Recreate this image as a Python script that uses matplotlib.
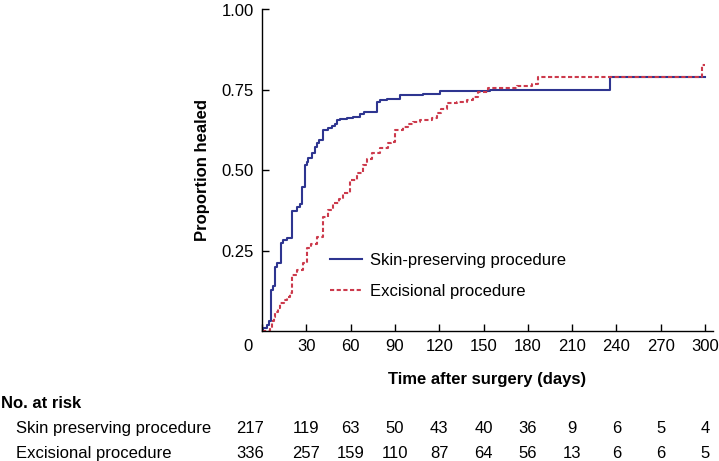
import matplotlib
matplotlib.use("Agg")
import matplotlib.pyplot as plt
from matplotlib.transforms import ScaledTranslation, blended_transform_factory

plt.rcParams['font.family'] = ['Liberation Sans', 'DejaVu Sans']

# ---------------- data ----------------
skin_t = [0, 1.0, 3.5, 5.0, 6.1, 7.7, 9.0, 10.4, 12.6, 14.4, 17.0, 20.1, 23.5, 25.7,
          26.9, 29.4, 30.2, 31.4, 33.6, 35.9, 37.5, 38.8, 41.1, 44.9, 47.2, 49.4, 51.0,
          52.8, 57.3, 61.9, 66.4, 69.1, 77.6, 79.9, 84.4, 93.4, 109.3, 120.5, 154.4,
          235.7, 300]
skin_p = [0, 0.010, 0.018, 0.030, 0.128, 0.140, 0.200, 0.210, 0.273, 0.283, 0.290, 0.374,
          0.385, 0.395, 0.449, 0.516, 0.527, 0.537, 0.553, 0.573, 0.584, 0.594, 0.625,
          0.630, 0.637, 0.645, 0.656, 0.660, 0.664, 0.666, 0.675, 0.682, 0.713, 0.718,
          0.722, 0.734, 0.737, 0.747, 0.751, 0.789, 0.789]

exc_t = [0, 5.4, 6.5, 7.8, 9.0, 10.6, 12.2, 15.0, 17.0, 19.0, 20.1, 24.0, 28.0, 30.2, 33.0,
         37.0, 41.5, 45.0, 48.3, 52.0, 55.0, 59.6, 64.1, 68.6, 71.0, 74.3, 80.0, 85.5, 87.0,
         90.1, 95.7, 99.0, 102.5, 107.0, 114.9, 118.3, 121.0, 125.0, 131.8, 138.6, 143.0,
         146.0, 153.3, 172.5, 182.6, 187.1, 297.7, 300]
exc_p = [0, 0.010, 0.030, 0.045, 0.060, 0.072, 0.086, 0.095, 0.105, 0.117, 0.174, 0.190,
         0.210, 0.257, 0.270, 0.293, 0.355, 0.375, 0.397, 0.410, 0.428, 0.470, 0.490, 0.516,
         0.535, 0.553, 0.568, 0.584, 0.589, 0.625, 0.635, 0.643, 0.651, 0.656, 0.662, 0.677,
         0.690, 0.708, 0.713, 0.720, 0.729, 0.744, 0.755, 0.762, 0.768, 0.791, 0.827, 0.827]

x_ticks = [0, 30, 60, 90, 120, 150, 180, 210, 240, 270, 300]
y_ticks = [0.25, 0.50, 0.75, 1.00]
y_tick_labels = ["0.25", "0.50", "0.75", "1.00"]

risk_groups = ["Skin preserving procedure", "Excisional procedure"]
risk_skin = [217, 119, 63, 50, 43, 40, 36, 9, 6, 5, 4]
risk_exc = [336, 257, 159, 110, 87, 64, 56, 13, 6, 6, 5]

series_labels = ["Skin-preserving procedure", "Excisional procedure"]

# ---------------- figure ----------------
W, H, DPI = 719, 461, 100
fig = plt.figure(figsize=(W / DPI, H / DPI), dpi=DPI)
ax_l, ax_r, ax_t, ax_b = 262, 712.5, 9.5, 331
ax = fig.add_axes([ax_l / W, 1 - ax_b / H, (ax_r - ax_l) / W, (ax_b - ax_t) / H])

blue = '#2e3590'
red = '#cc3a4c'
FS = 12

ax.step(skin_t, skin_p, where='post', color=blue, lw=1.5, label=series_labels[0])
ax.step(exc_t, exc_p, where='post', color=red, lw=1.5, dashes=(2.0, 1.2),
        label=series_labels[1])

ax.set_xlim(0, 305)
ax.set_ylim(0, 1.0)
for s in ['top', 'right']:
    ax.spines[s].set_visible(False)
for s in ['left', 'bottom']:
    ax.spines[s].set_linewidth(1.0)

ax.set_xticks(x_ticks)
ax.set_xticklabels([str(v) for v in x_ticks])
ax.set_yticks(y_ticks)
ax.set_yticklabels(y_tick_labels)
ax.tick_params(direction='in', length=5, width=1.0, labelsize=FS, colors='black')
ax.tick_params(axis='x', pad=6)
ax.tick_params(axis='y', pad=6)

# shift the "0" label left
first = ax.get_xticklabels()[0]
first.set_transform(first.get_transform() + ScaledTranslation(-14 / DPI, 0, fig.dpi_scale_trans))

ax.set_xlabel("Time after surgery (days)", fontsize=FS, fontweight='bold', labelpad=13)
ax.set_ylabel("Proportion healed", fontsize=FS, fontweight='bold', labelpad=8)

leg = ax.legend(loc='upper left', bbox_to_anchor=(330 / W, 1 - 253 / H),
                bbox_transform=fig.transFigure, frameon=False, fontsize=FS,
                handlelength=1.92, handletextpad=0.48, labelspacing=0.95,
                borderpad=0, borderaxespad=0)

# ---------------- number at risk table ----------------
fig.text(1 / W, 1 - 403 / H, "No. at risk", fontsize=FS, fontweight='bold',
         ha='left', va='center')
trans = blended_transform_factory(ax.transData, fig.transFigure)
for row, (name, vals) in enumerate(zip(risk_groups, [risk_skin, risk_exc])):
    yy = 1 - (428 + 25 * row) / H
    fig.text(16 / W, yy, name, fontsize=FS, ha='left', va='center')
    for i, (xt, v) in enumerate(zip(x_ticks, vals)):
        tr = trans
        if i == 0:
            tr = trans + ScaledTranslation(-12 / DPI, 0, fig.dpi_scale_trans)
        ax.text(xt, yy, str(v), fontsize=FS, ha='center', va='center',
                transform=tr, clip_on=False)

fig.savefig("out.png", dpi=DPI)
